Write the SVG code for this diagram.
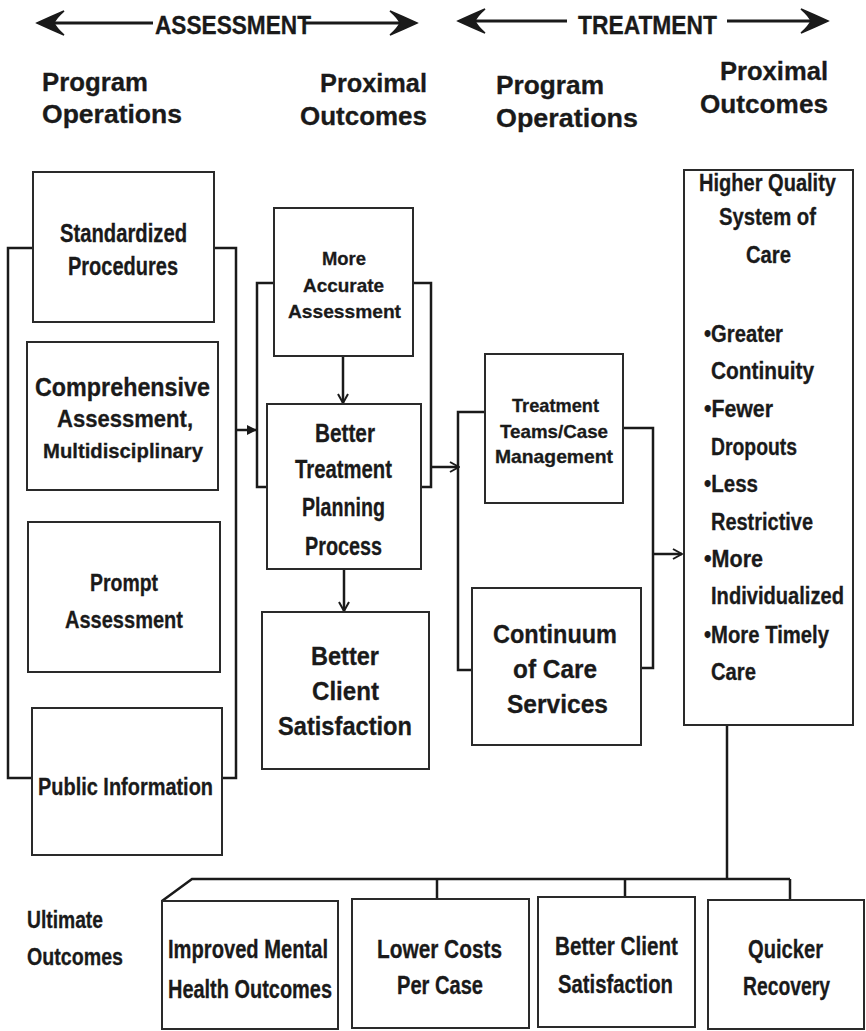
<svg xmlns="http://www.w3.org/2000/svg" width="866" height="1031" viewBox="0 0 866 1031">
<defs>
<style>
text{font-family:"Liberation Sans",Arial,sans-serif;font-weight:bold;fill:#1a1a1a;stroke:#1a1a1a;stroke-width:0.3}
.hd{font-size:26px}
.b{fill:#fff;stroke:#2a2a2a;stroke-width:2}
.c{fill:none;stroke:#1a1a1a;stroke-width:2.5}
.s18{font-size:19px}.s20{font-size:21px}.s22{font-size:23px}.s23{font-size:24px}.s24{font-size:25px}.s25{font-size:26px}.rb{font-size:23px}
.ah{fill:#1a1a1a;stroke:#1a1a1a;stroke-width:1.5;stroke-linejoin:miter}
</style>
<marker id="tri" viewBox="0 0 10 10" refX="10" refY="5" markerWidth="10" markerHeight="10" markerUnits="userSpaceOnUse" orient="auto">
<path d="M0,0 L10,5 L0,10 Z" fill="#1a1a1a"/>
</marker>
<marker id="open" viewBox="0 0 12 12" refX="11" refY="6" markerWidth="12" markerHeight="12" markerUnits="userSpaceOnUse" orient="auto">
<path d="M2,1 L11,6 L2,11" fill="none" stroke="#1a1a1a" stroke-width="2"/>
</marker>
</defs>
<rect width="866" height="1031" fill="#fff"/>

<g id="header">
<g id="assessment-arrow">
<line x1="42" y1="23" x2="153" y2="23" stroke="#1a1a1a" stroke-width="3"/>
<line x1="305" y1="23" x2="412" y2="23" stroke="#1a1a1a" stroke-width="3"/>
<path class="ah" d="M37,23 Q50,17 64,11 Q56,18 54,23 Q56,28 64,35 Q50,29 37,23 Z"/>
<path class="ah" d="M417,23 Q404,17 390,11 Q398,18 400,23 Q398,28 390,35 Q404,29 417,23 Z"/>
<text class="hd" x="155" y="34" textLength="156" lengthAdjust="spacingAndGlyphs">ASSESSMENT</text>
</g>
<g id="treatment-arrow">
<line x1="463" y1="21" x2="567" y2="21" stroke="#1a1a1a" stroke-width="3"/>
<line x1="727" y1="21" x2="823" y2="21" stroke="#1a1a1a" stroke-width="3"/>
<path class="ah" d="M458,21 Q471,15 485,9 Q477,16 475,21 Q477,26 485,33 Q471,27 458,21 Z"/>
<path class="ah" d="M828,21 Q815,15 801,9 Q809,16 811,21 Q809,26 801,33 Q815,27 828,21 Z"/>
<text class="hd" x="578" y="34" textLength="139" lengthAdjust="spacingAndGlyphs">TREATMENT</text>
</g>
<text class="hd" x="42" y="91" textLength="106" lengthAdjust="spacingAndGlyphs">Program</text>
<text class="hd" x="42" y="123" textLength="140" lengthAdjust="spacingAndGlyphs">Operations</text>
<text class="hd" x="320" y="92" textLength="107" lengthAdjust="spacingAndGlyphs">Proximal</text>
<text class="hd" x="300" y="125" textLength="127" lengthAdjust="spacingAndGlyphs">Outcomes</text>
<text class="hd" x="496" y="94" textLength="108" lengthAdjust="spacingAndGlyphs">Program</text>
<text class="hd" x="496" y="127" textLength="142" lengthAdjust="spacingAndGlyphs">Operations</text>
<text class="hd" x="720" y="80" textLength="108" lengthAdjust="spacingAndGlyphs">Proximal</text>
<text class="hd" x="700" y="113" textLength="128" lengthAdjust="spacingAndGlyphs">Outcomes</text>
</g>

<g id="connectors">
<path class="c" d="M33,248 H8 V778 H32"/>
<path class="c" d="M214,248 H236 V778 H222"/>
<path class="c" d="M236,430 H257" marker-end="url(#tri)"/>
<path class="c" d="M274,283 H257 V487 H267"/>
<path class="c" d="M413,283 H431 V487 H421"/>
<path class="c" d="M343,356 V403" marker-end="url(#open)"/>
<path class="c" d="M344,569 V611" marker-end="url(#open)"/>
<path class="c" d="M431,467 H459" marker-end="url(#open)"/>
<path class="c" d="M485,412 H458 V670 H472"/>
<path class="c" d="M623,428 H653 V668 H641"/>
<path class="c" d="M653,554 H682" marker-end="url(#open)"/>
<path class="c" d="M727,725 V879"/>
<path class="c" d="M162,901 L192,879 H790"/>
<path class="c" d="M437,879 V899"/>
<path class="c" d="M625,879 V897"/>
<path class="c" d="M790,879 V900"/>
</g>

<g id="standardized-procedures">
<rect class="b" x="33" y="172" width="181" height="150"/>
<text class="s24" x="60" y="242" textLength="127" lengthAdjust="spacingAndGlyphs">Standardized</text>
<text class="s24" x="68" y="275" textLength="110" lengthAdjust="spacingAndGlyphs">Procedures</text>
</g>
<g id="comprehensive-assessment">
<rect class="b" x="27" y="342" width="191" height="148"/>
<text class="s24" x="35" y="396" textLength="175" lengthAdjust="spacingAndGlyphs">Comprehensive</text>
<text class="s23" x="57" y="427" textLength="136" lengthAdjust="spacingAndGlyphs">Assessment,</text>
<text class="s20" x="43" y="458" textLength="160" lengthAdjust="spacingAndGlyphs">Multidisciplinary</text>
</g>
<g id="prompt-assessment">
<rect class="b" x="28" y="522" width="192" height="150"/>
<text class="s23" x="90" y="591" textLength="68" lengthAdjust="spacingAndGlyphs">Prompt</text>
<text class="s23" x="65" y="628" textLength="118" lengthAdjust="spacingAndGlyphs">Assessment</text>
</g>
<g id="public-information">
<rect class="b" x="32" y="708" width="190" height="147"/>
<text class="s23" x="38" y="795" textLength="175" lengthAdjust="spacingAndGlyphs">Public Information</text>
</g>

<g id="more-accurate-assessment">
<rect class="b" x="274" y="208" width="139" height="148"/>
<text class="s18" x="322" y="265" textLength="44" lengthAdjust="spacingAndGlyphs">More</text>
<text class="s18" x="303" y="292" textLength="81" lengthAdjust="spacingAndGlyphs">Accurate</text>
<text class="s18" x="288" y="318" textLength="113" lengthAdjust="spacingAndGlyphs">Assessment</text>
</g>
<g id="better-treatment-planning">
<rect class="b" x="267" y="404" width="154" height="165"/>
<text class="s25" x="315" y="442" textLength="60" lengthAdjust="spacingAndGlyphs">Better</text>
<text class="s25" x="295" y="478" textLength="97" lengthAdjust="spacingAndGlyphs">Treatment</text>
<text class="s25" x="302" y="516" textLength="83" lengthAdjust="spacingAndGlyphs">Planning</text>
<text class="s25" x="305" y="555" textLength="77" lengthAdjust="spacingAndGlyphs">Process</text>
</g>
<g id="better-client-satisfaction">
<rect class="b" x="262" y="612" width="167" height="157"/>
<text class="s25" x="311" y="665" textLength="68" lengthAdjust="spacingAndGlyphs">Better</text>
<text class="s25" x="312" y="700" textLength="67" lengthAdjust="spacingAndGlyphs">Client</text>
<text class="s25" x="278" y="735" textLength="134" lengthAdjust="spacingAndGlyphs">Satisfaction</text>
</g>

<g id="treatment-teams">
<rect class="b" x="485" y="354" width="138" height="149"/>
<text class="s18" x="512" y="412" textLength="87" lengthAdjust="spacingAndGlyphs">Treatment</text>
<text class="s18" x="500" y="438" textLength="108" lengthAdjust="spacingAndGlyphs">Teams/Case</text>
<text class="s18" x="495" y="463" textLength="118" lengthAdjust="spacingAndGlyphs">Management</text>
</g>
<g id="continuum-of-care">
<rect class="b" x="472" y="588" width="169" height="157"/>
<text class="s25" x="493" y="643" textLength="124" lengthAdjust="spacingAndGlyphs">Continuum</text>
<text class="s25" x="513" y="678" textLength="84" lengthAdjust="spacingAndGlyphs">of Care</text>
<text class="s25" x="507" y="713" textLength="101" lengthAdjust="spacingAndGlyphs">Services</text>
</g>

<g id="higher-quality-system">
<rect class="b" x="684" y="170" width="169" height="555"/>
<text class="rb" x="699" y="191" textLength="137" lengthAdjust="spacingAndGlyphs">Higher Quality</text>
<text class="rb" x="719" y="225" textLength="97" lengthAdjust="spacingAndGlyphs">System of</text>
<text class="rb" x="746" y="263" textLength="45" lengthAdjust="spacingAndGlyphs">Care</text>
<text class="rb" x="704" y="342" textLength="79" lengthAdjust="spacingAndGlyphs">•Greater</text>
<text class="rb" x="711" y="379" textLength="103" lengthAdjust="spacingAndGlyphs">Continuity</text>
<text class="rb" x="704" y="417" textLength="69" lengthAdjust="spacingAndGlyphs">•Fewer</text>
<text class="rb" x="711" y="455" textLength="86" lengthAdjust="spacingAndGlyphs">Dropouts</text>
<text class="rb" x="704" y="492" textLength="54" lengthAdjust="spacingAndGlyphs">•Less</text>
<text class="rb" x="711" y="530" textLength="102" lengthAdjust="spacingAndGlyphs">Restrictive</text>
<text class="rb" x="704" y="567" textLength="59" lengthAdjust="spacingAndGlyphs">•More</text>
<text class="rb" x="711" y="604" textLength="133" lengthAdjust="spacingAndGlyphs">Individualized</text>
<text class="rb" x="704" y="643" textLength="125" lengthAdjust="spacingAndGlyphs">•More Timely</text>
<text class="rb" x="711" y="680" textLength="45" lengthAdjust="spacingAndGlyphs">Care</text>
</g>

<g id="ultimate-outcomes-label">
<text class="s22" x="27" y="928" textLength="76" lengthAdjust="spacingAndGlyphs">Ultimate</text>
<text class="s22" x="27" y="965" textLength="96" lengthAdjust="spacingAndGlyphs">Outcomes</text>
</g>
<g id="improved-mental-health">
<rect class="b" x="162" y="901" width="176" height="128"/>
<text class="s24" x="168" y="958" textLength="160" lengthAdjust="spacingAndGlyphs">Improved Mental</text>
<text class="s24" x="168" y="998" textLength="164" lengthAdjust="spacingAndGlyphs">Health Outcomes</text>
</g>
<g id="lower-costs">
<rect class="b" x="352" y="899" width="177" height="129"/>
<text class="s24" x="377" y="958" textLength="125" lengthAdjust="spacingAndGlyphs">Lower Costs</text>
<text class="s24" x="397" y="994" textLength="86" lengthAdjust="spacingAndGlyphs">Per Case</text>
</g>
<g id="better-client-satisfaction-ultimate">
<rect class="b" x="538" y="897" width="157" height="130"/>
<text class="s24" x="555" y="955" textLength="123" lengthAdjust="spacingAndGlyphs">Better Client</text>
<text class="s24" x="558" y="993" textLength="115" lengthAdjust="spacingAndGlyphs">Satisfaction</text>
</g>
<g id="quicker-recovery">
<rect class="b" x="708" y="900" width="156" height="129"/>
<text class="s24" x="748" y="958" textLength="75" lengthAdjust="spacingAndGlyphs">Quicker</text>
<text class="s24" x="743" y="995" textLength="87" lengthAdjust="spacingAndGlyphs">Recovery</text>
</g>
</svg>
